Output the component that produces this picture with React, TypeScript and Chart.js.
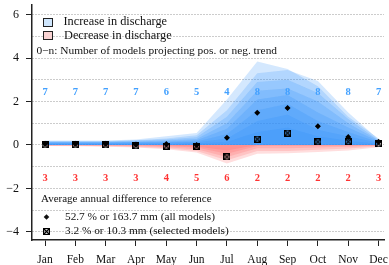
import React, { useEffect, useRef } from 'react';
import { Chart, registerables } from 'chart.js';
Chart.register(...registerables);

const months = ['Jan', 'Feb', 'Mar', 'Apr', 'May', 'Jun', 'Jul', 'Aug', 'Sep', 'Oct', 'Nov', 'Dec'];
const yTickValues = [-4, -3, -2, -1, 0, 1, 2, 3, 4, 5, 6];
const posCounts = [7, 7, 7, 7, 6, 5, 4, 8, 8, 8, 8, 7];
const negCounts = [3, 3, 3, 3, 4, 5, 6, 2, 2, 2, 2, 3];
const allModels = [0.05, 0.05, 0.05, 0.02, 0.04, 0.0, 0.33, 1.48, 1.7, 0.86, 0.37, 0.15];
const selectedModels = [0.0, 0.0, 0.0, -0.04, -0.05, -0.05, -0.55, 0.27, 0.55, 0.14, 0.15, 0.05];

const inc1 = [0.2, 0.2, 0.2, 0.25, 0.4, 0.55, 2.1, 3.85, 3.5, 2.7, 1.3, 0.3];
const inc2 = [0.18, 0.18, 0.18, 0.22, 0.3, 0.45, 1.6, 3.3, 3.45, 2.95, 1.5, 0.25];
const inc3 = [0.16, 0.16, 0.16, 0.2, 0.25, 0.35, 1.3, 2.9, 3.0, 2.4, 1.2, 0.22];
const inc4 = [0.14, 0.14, 0.14, 0.16, 0.2, 0.28, 1.0, 2.5, 2.6, 2.0, 1.0, 0.2];
const inc5 = [0.12, 0.12, 0.12, 0.14, 0.16, 0.22, 0.75, 2.1, 2.3, 1.5, 0.8, 0.17];
const inc6 = [0.1, 0.1, 0.1, 0.12, 0.13, 0.16, 0.5, 1.6, 1.9, 1.1, 0.6, 0.14];
const inc7 = [0.08, 0.08, 0.08, 0.09, 0.1, 0.12, 0.3, 1.1, 1.4, 0.7, 0.4, 0.1];
const inc8 = [0.05, 0.05, 0.05, 0.06, 0.06, 0.08, 0.15, 0.6, 0.8, 0.4, 0.2, 0.06];
const increaseLayers = [inc1, inc2, inc3, inc4, inc5, inc6, inc7, inc8];

const dec1 = [-0.05, -0.06, -0.08, -0.12, -0.2, -0.35, -0.85, -0.4, -0.38, -0.32, -0.25, -0.1];
const dec2 = [-0.04, -0.04, -0.06, -0.09, -0.15, -0.28, -0.7, -0.28, -0.28, -0.22, -0.16, -0.07];
const dec3 = [-0.03, -0.03, -0.04, -0.06, -0.1, -0.2, -0.55, -0.15, -0.15, -0.12, -0.08, -0.04];
const dec4 = [-0.02, -0.02, -0.02, -0.03, -0.06, -0.12, -0.4, -0.05, -0.05, -0.05, -0.04, -0.02];
const dec5 = [0, 0, 0, 0, -0.03, -0.07, -0.25, 0, 0, 0, 0, 0];
const decreaseLayers = [dec1, dec2, dec3, dec4, dec5];

const SERIF = "'Liberation Serif', 'Times New Roman', serif";

function makeSquareX(): HTMLCanvasElement {
  const c = document.createElement('canvas');
  c.width = 7;
  c.height = 7;
  const g = c.getContext('2d')!;
  g.strokeStyle = '#000';
  g.lineWidth = 1.2;
  g.strokeRect(0.6, 0.6, 5.8, 5.8);
  g.beginPath();
  g.moveTo(1, 1);
  g.lineTo(6, 6);
  g.moveTo(6, 1);
  g.lineTo(1, 6);
  g.stroke();
  return c;
}

const toPts = (arr: number[]) => arr.map((v, i) => ({ x: i + 1, y: v }));

export default function App() {
  const ref = useRef<HTMLCanvasElement>(null);
  useEffect(() => {
    document.body.style.margin = '0';
    const sq = makeSquareX();
    const annotations = {
      id: 'annotations',
      afterDatasetsDraw(chart: any) {
        const ctx = chart.ctx as CanvasRenderingContext2D;
        const xs = chart.scales.x;
        const ys = chart.scales.y;
        ctx.save();
        ctx.font = `bold 10.5px ${SERIF}`;
        ctx.textAlign = 'center';
        ctx.textBaseline = 'middle';
        posCounts.forEach((n, i) => {
          ctx.fillStyle = '#42a0ff';
          ctx.fillText(String(n), xs.getPixelForValue(i + 1), ys.getPixelForValue(2.42));
        });
        negCounts.forEach((n, i) => {
          ctx.fillStyle = '#ff3333';
          ctx.fillText(String(n), xs.getPixelForValue(i + 1), ys.getPixelForValue(-1.52));
        });
        ctx.textAlign = 'left';
        ctx.lineWidth = 1;
        ctx.strokeStyle = '#222';
        ctx.fillStyle = '#cfe6fd';
        ctx.fillRect(43.5, 18.5, 9, 8);
        ctx.strokeRect(43.5, 18.5, 9, 8);
        ctx.fillStyle = '#f9d3d3';
        ctx.fillRect(43.5, 31.5, 9, 8);
        ctx.strokeRect(43.5, 31.5, 9, 8);
        ctx.fillStyle = '#111';
        ctx.font = `12.3px ${SERIF}`;
        ctx.fillText('Increase in discharge', 63.5, 22);
        ctx.fillText('Decrease in discharge', 64, 35.5);
        ctx.font = `11.4px ${SERIF}`;
        ctx.fillText('0\u2212n: Number of models projecting pos. or neg. trend', 36.5, 51);
        ctx.font = `11px ${SERIF}`;
        ctx.fillText('Average annual difference to reference', 41, 199);
        ctx.font = `11.3px ${SERIF}`;
        ctx.fillText('52.7 % or 163.7 mm (all models)', 65, 217);
        ctx.fillText('3.2 % or 10.3 mm (selected models)', 65, 231.5);
        ctx.beginPath();
        ctx.moveTo(46.5, 214.2);
        ctx.lineTo(49.3, 217);
        ctx.lineTo(46.5, 219.8);
        ctx.lineTo(43.7, 217);
        ctx.closePath();
        ctx.fill();
        ctx.drawImage(sq, 43, 228);
        ctx.restore();
      },
    };

    const datasets: any[] = [];
    increaseLayers.forEach((layer) => {
      datasets.push({
        data: toPts(layer),
        fill: 'origin',
        backgroundColor: 'rgba(40,140,250,0.2)',
        borderWidth: 0,
        pointRadius: 0,
        tension: 0,
        order: 2,
      });
    });
    decreaseLayers.forEach((layer) => {
      datasets.push({
        data: toPts(layer),
        fill: 'origin',
        backgroundColor: 'rgba(255,90,90,0.2)',
        borderWidth: 0,
        pointRadius: 0,
        tension: 0,
        order: 2,
      });
    });
    datasets.push({
      data: toPts(allModels),
      showLine: false,
      pointStyle: 'rectRot',
      pointRadius: 3,
      backgroundColor: '#000',
      borderWidth: 0,
      order: 0,
    });
    datasets.push({
      data: toPts(selectedModels),
      showLine: false,
      pointStyle: sq,
      pointRadius: 3.5,
      order: 0,
    });

    const chart = new Chart(ref.current!, {
      type: 'line',
      data: { datasets },
      plugins: [annotations],
      options: {
        animation: false,
        responsive: false,
        events: [],
        layout: { padding: { top: 5, right: 0, left: 0, bottom: 0 } },
        plugins: { legend: { display: false }, tooltip: { enabled: false } },
        scales: {
          x: {
            type: 'linear',
            min: 0.571,
            max: 12.18,
            afterBuildTicks: (s: any) => {
              s.ticks = months.map((_, i) => ({ value: i + 1 }));
            },
            afterFit: (s: any) => {
              s.height = 25;
              s.paddingLeft = 0;
              s.paddingRight = 0;
            },
            ticks: {
              autoSkip: false,
              maxRotation: 0,
              padding: 7,
              color: '#111',
              font: { family: SERIF, size: 11.5 },
              callback: (v: any) => months[Math.round(v) - 1] ?? '',
            },
            grid: { drawOnChartArea: false, tickLength: 6, tickColor: '#222', tickWidth: 1 },
            border: { color: '#222', width: 1.5 },
          },
          y: {
            type: 'linear',
            min: -4.38,
            max: 6.45,
            afterBuildTicks: (s: any) => {
              s.ticks = yTickValues.map((v) => ({ value: v }));
            },
            afterFit: (s: any) => {
              s.width = 32;
              s.paddingTop = 0;
              s.paddingBottom = 0;
            },
            ticks: {
              autoSkip: false,
              padding: 7,
              color: '#111',
              font: { family: SERIF, size: 12 },
              callback: (v: any) => (v % 2 === 0 ? String(v).replace('-', '\u2212') : ''),
            },
            grid: {
              color: '#999999',
              lineWidth: 1,
              tickLength: 6,
              tickColor: (c: any) => (c.tick && c.tick.value % 2 === 0 ? '#222' : 'rgba(0,0,0,0)'),
              tickWidth: 1,
            },
            border: { color: '#222', width: 1.5, dash: [1, 2] },
          },
        },
      },
    });
    return () => chart.destroy();
  }, []);
  return (
    <div style={{ width: 389, height: 265 }}>
      <canvas ref={ref} width={389} height={265} style={{ display: 'block' }} />
    </div>
  );
}
